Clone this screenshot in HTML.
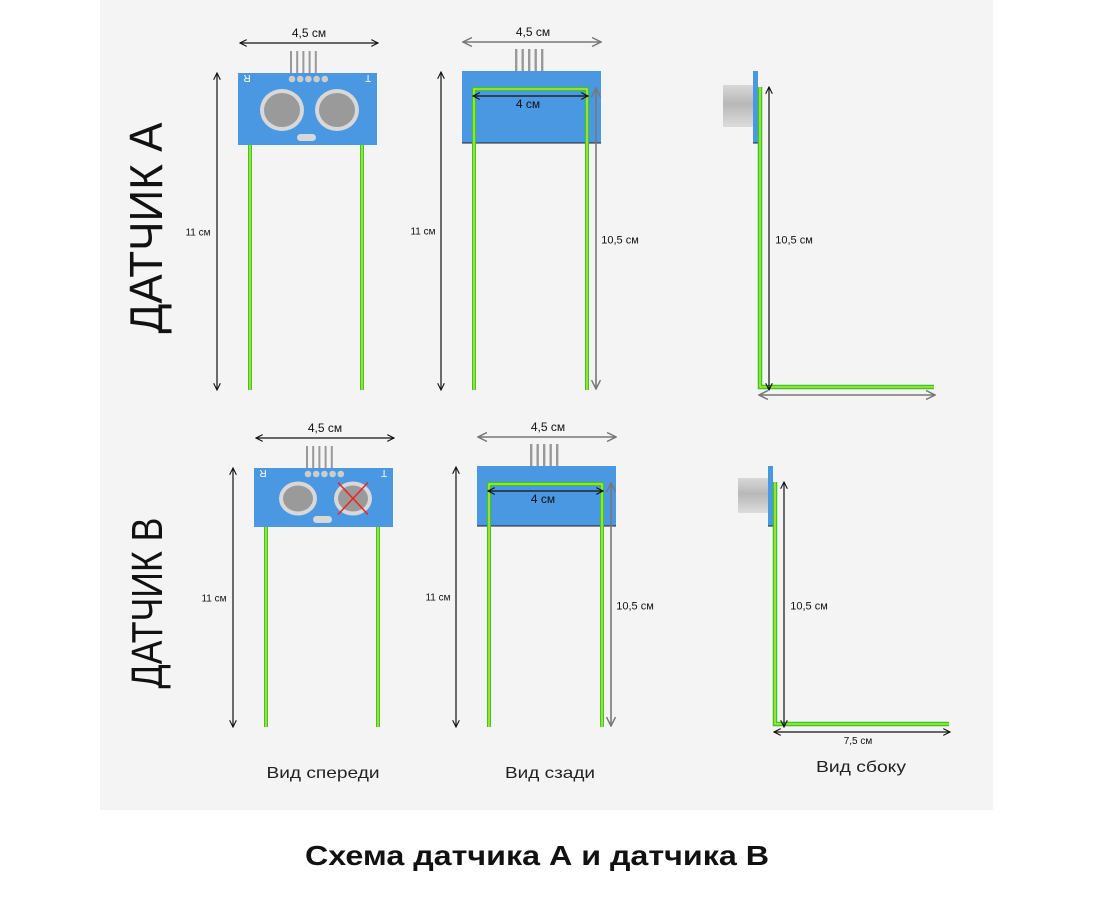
<!DOCTYPE html>
<html><head><meta charset="utf-8"><style>
html,body{margin:0;padding:0;background:#fff;}
svg{display:block;font-family:"Liberation Sans",sans-serif;}
</style></head><body>
<svg id="s" width="1110" height="900" viewBox="0 0 1110 900" xmlns="http://www.w3.org/2000/svg">
<defs>
<marker id="ah" viewBox="0 0 10 10" refX="9" refY="5" markerWidth="7" markerHeight="7" orient="auto-start-reverse"><path d="M1,1 L9,5 L1,9" fill="none" stroke="#111" stroke-width="1.3"/></marker>
<marker id="ahg" viewBox="0 0 10 10" refX="9" refY="5" markerWidth="7" markerHeight="7" orient="auto-start-reverse"><path d="M1,1 L9,5 L1,9" fill="none" stroke="#777" stroke-width="1.3"/></marker>
<linearGradient id="cyl" x1="0" y1="0" x2="0" y2="1"><stop offset="0" stop-color="#d8d8d8"/><stop offset="0.45" stop-color="#b8b8b8"/><stop offset="1" stop-color="#dcdcdc"/></linearGradient>
</defs>
<rect x="100" y="0" width="893" height="810" fill="#f4f4f4"/>
<text x="162" y="228" font-size="46" text-anchor="middle" transform="rotate(-90 162 228)" textLength="211" lengthAdjust="spacingAndGlyphs" fill="#111">ДАТЧИК А</text>
<text x="162" y="603" font-size="44" text-anchor="middle" transform="rotate(-90 162 603)" textLength="171" lengthAdjust="spacingAndGlyphs" fill="#111">ДАТЧИК В</text>
<g id="g"></g>
<text x="323" y="778" font-size="16" text-anchor="middle" textLength="113" lengthAdjust="spacingAndGlyphs" fill="#222">Вид спереди</text>
<text x="550" y="778" font-size="16" text-anchor="middle" textLength="90" lengthAdjust="spacingAndGlyphs" fill="#222">Вид сзади</text>
<text x="861" y="772" font-size="16" text-anchor="middle" textLength="90" lengthAdjust="spacingAndGlyphs" fill="#222">Вид сбоку</text>
<text x="537" y="865" font-size="28" font-weight="bold" text-anchor="middle" textLength="464" lengthAdjust="spacingAndGlyphs" fill="#111">Схема датчика А и датчика В</text>
</svg>
<script>
const g=document.getElementById('g');
const NS='http://www.w3.org/2000/svg';
function el(t,a,txt){const e=document.createElementNS(NS,t);for(const k in a)e.setAttribute(k,a[k]);if(txt)e.textContent=txt;g.appendChild(e);return e;}
function arrow(x1,y1,x2,y2,gray){return el('line',{x1,y1,x2,y2,stroke:gray?'#777':'#111','stroke-width':gray?1.6:1.2,'marker-start':gray?'url(#ahg)':'url(#ah)','marker-end':gray?'url(#ahg)':'url(#ah)'});}
function txt(x,y,s,size){return el('text',{x,y,'font-size':size||11,'text-anchor':'middle',fill:'#111'},s);}
function wire(d){el('path',{d,fill:'none',stroke:'#2ecc2e','stroke-width':4});el('path',{d,fill:'none',stroke:'#e6e62a','stroke-width':1.3});}
function set(o,isB){
 const fx=o.fx, bt=o.bt, bb=o.bb, wb=o.wb;
 let a=arrow(fx+2,bt-30,fx+140,bt-30);
 
 
 txt(fx+71,bt-36,'4,5 см',12);
 for(let i=0;i<5;i++)el('rect',{x:fx+52+i*6.2,y:bt-22,width:2,height:22,fill:'#999'});
 a=arrow(fx-21,bt,fx-21,wb);
 
 
 txt(fx-40,(bt+wb)/2+4,'11 см',10);
 wire(`M${fx+12},${bb} V${wb}`);wire(`M${fx+124},${bb} V${wb}`);
 let b=el('rect',{x:fx,y:bt,width:139,height:bb-bt,fill:'#4a98e2'});
 
 
 for(let i=0;i<5;i++)el('circle',{cx:fx+54+i*8.2,cy:bt+6,r:3.3,fill:'#ccc'});
 const cy=(bt+bb)/2+1, rx=isB?19:22, ry=isB?17:21;
 [fx+44,fx+99].forEach(cx=>{el('ellipse',{cx,cy,rx,ry,fill:'#d8d8d8'});el('ellipse',{cx,cy,rx:rx-4,ry:ry-4,fill:'#9a9a9a'});});
 el('rect',{x:fx+59,y:bb-11,width:19,height:7,rx:3.5,fill:'#d8d8d8'});
 el('text',{x:fx+9,y:bt+10,'font-size':10,fill:'#fff',transform:`rotate(180 ${fx+9} ${bt+6})`,'text-anchor':'middle'},'R');
 el('text',{x:fx+130,y:bt+10,'font-size':10,fill:'#fff',transform:`rotate(180 ${fx+130} ${bt+6})`,'text-anchor':'middle'},'T');
 if(isB){el('line',{x1:fx+84,y1:cy-16,x2:fx+114,y2:cy+16,stroke:'#e22','stroke-width':1.5});el('line',{x1:fx+114,y1:cy-16,x2:fx+84,y2:cy+16,stroke:'#e22','stroke-width':1.5});}
 const bx=o.bx, bbt=o.bbt, bbb=o.bbb, ut=o.ut;
 a=arrow(bx+1,bbt-29,bx+139,bbt-29,true);
 
 
 txt(bx+71,bbt-35,'4,5 см',12);
 for(let i=0;i<5;i++)el('rect',{x:bx+53+i*6.5,y:bbt-22,width:2.4,height:28,fill:'#999'});
 b=el('rect',{x:bx,y:bbt,width:139,height:bbb-bbt,fill:'#4a98e2'});
 
 
 el('line',{x1:bx,y1:bbb,x2:bx+139,y2:bbb,stroke:'#222','stroke-width':1});
 wire(`M${bx+12},${wb} V${ut} H${bx+125} V${wb}`);
 arrow(bx+11,ut+7,bx+126,ut+7);
 txt(bx+66,ut+19,'4 см',12);
 a=arrow(bx-21,bbt+1,bx-21,wb);
 
 
 txt(bx-39,(bbt+wb)/2+4,'11 см',10);
 arrow(bx+134,ut-1,bx+134,wb-1,true);
 txt(bx+158,(ut+wb)/2+4,'10,5 см',11);
 const sx=o.sx;
 el('rect',{x:sx-34,y:o.gt,width:30,height:o.gh,fill:'url(#cyl)'});
 el('rect',{x:sx-4,y:bbt,width:5,height:bbb-bbt,fill:'#4a98e2'});
 el('line',{x1:sx-4,y1:bbb,x2:sx+1,y2:bbb,stroke:'#222','stroke-width':1});
 const sw=el('path',{d:`M${sx+3},${ut-2} V${wb-3} H${sx+177}`,fill:'none',stroke:'#2ecc2e','stroke-width':4.5});
 
 
 el('path',{d:`M${sx+3},${ut-2} V${wb-3} H${sx+177}`,fill:'none',stroke:'#e6e62a','stroke-width':1.3});
 arrow(sx+12,ut-2,sx+12,wb);
 txt(sx+37,(ut+wb)/2+4,'10,5 см',11);
 a=arrow(sx+2,wb+5,sx+178,wb+5,!isB);
 
 
 if(isB)txt(sx+86,wb+17,'7,5 см',10);
}
set({fx:238,bt:73,bb:145,wb:390,bx:462,bbt:71,bbb:143,ut:89,sx:757,gt:85,gh:42},false);
set({fx:254,bt:468,bb:527,wb:727,bx:477,bbt:466,bbb:526,ut:484,sx:772,gt:478,gh:35},true);
</script>
</body></html>
